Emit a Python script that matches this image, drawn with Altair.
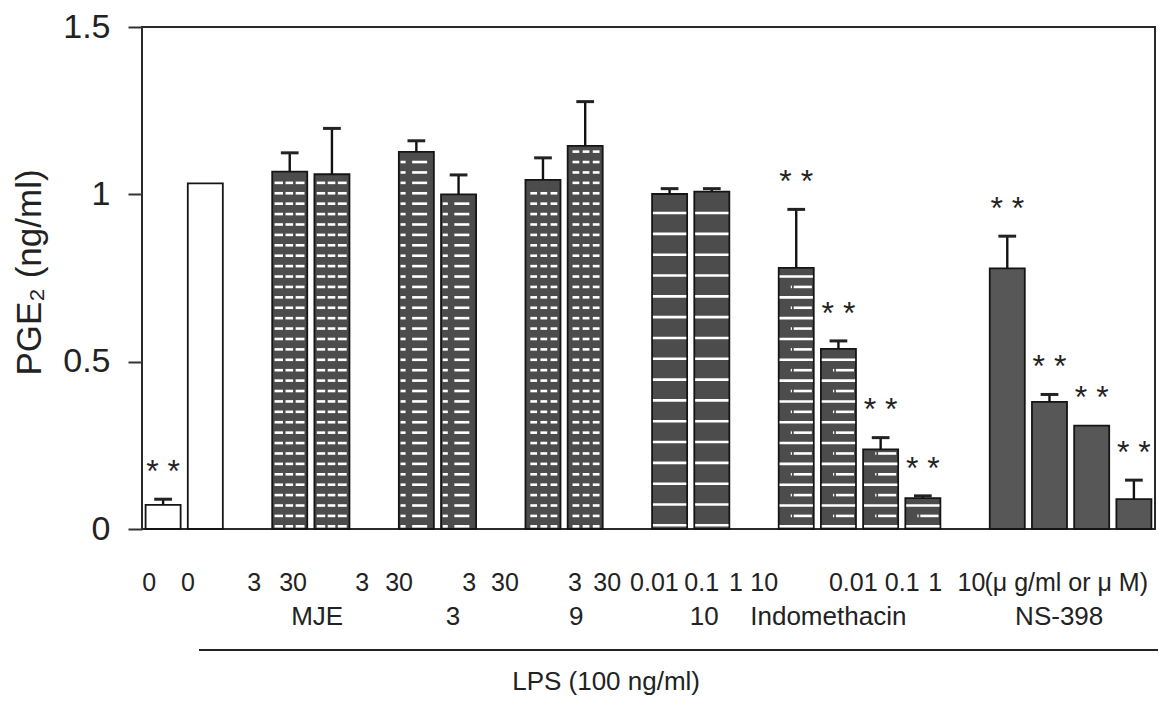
import altair as alt
import pandas as pd

FONT = "Liberation Sans"
INK = "#222222"

# ---- data ----
bar_group = ["Control", "LPS", "MJE", "MJE", "Fr3", "Fr3", "Fr9", "Fr9", "Fr10", "Fr10",
             "Indomethacin", "Indomethacin", "Indomethacin", "Indomethacin",
             "NS-398", "NS-398", "NS-398", "NS-398"]
bar_slot = [0, 1, 3, 4, 6, 7, 9, 10, 12, 13, 15, 16, 17, 18, 20, 21, 22, 23]
bar_style = ["open", "open", "mje", "mje", "frac3", "frac3", "frac9", "frac9", "frac10", "frac10",
             "indo", "indo", "indo", "indo", "ns", "ns", "ns", "ns"]
bar_value = [0.072, 1.033, 1.068, 1.060, 1.127, 1.000, 1.043, 1.145, 1.001, 1.008,
             0.780, 0.538, 0.238, 0.092, 0.779, 0.380, 0.309, 0.089]
bar_upper = [0.089, None, 1.124, 1.197, 1.160, 1.058, 1.109, 1.277, 1.017, 1.017,
             0.955, 0.562, 0.273, 0.099, 0.875, 0.402, None, 0.146]
bar_sig = [True, False, False, False, False, False, False, False, False, False,
           True, True, True, True, True, True, True, True]

dose_labels = ["0", "0", "3", "30", "3", "30", "3", "30", "3", "30",
               "0.01", "0.1", "1", "10", "0.01", "0.1", "1", "10"]
dose_pos = [-0.33, 0.59, 2.16, 3.08, 4.72, 5.59, 7.25, 8.10, 9.76, 10.52,
            11.64, 12.76, 13.57, 14.24, 16.35, 17.51, 18.29, 19.15]
unit_note = "(μ g/ml or μ M)"
unit_pos = [19.46]
group_labels = ["MJE", "3", "9", "10", "Indomethacin", "NS-398"]
group_pos = [3.65, 6.87, 9.79, 12.82, 15.76, 21.23]
lps_label = "LPS (100 ng/ml)"
lps_label_pos = [8.27]
lps_span = [0.85, 23.58]

# ---- tables ----
bars_df = pd.DataFrame({"group": bar_group, "slot": bar_slot, "style": bar_style,
                        "value": bar_value, "upper": bar_upper, "sig": bar_sig})

STEP = 0.0311
row_patterns = {
    "mje": [[(-0.36, -0.16), (-0.10, 0.08), (0.14, 0.35)]],
    "frac3": [[(-0.375, -0.255), (-0.10, 0.255)]],
    "frac9": [[(-0.30, -0.14), (-0.06, 0.10), (0.18, 0.34)]],
    "frac10": [[(-0.395, 0.395)]],
    "indo": [[(-0.395, 0.395)], [(-0.13, -0.10), (-0.06, 0.37)]],
}
rows = []
for s, st, v in zip(bar_slot, bar_style, bar_value):
    if st not in row_patterns:
        continue
    step = STEP * 2 if st == "frac10" else STEP
    start = 0.011 if st == "frac10" else 0.008
    k = 0
    while start + k * step < v - 0.012:
        yy = start + k * step
        pat = row_patterns[st][k % len(row_patterns[st])]
        for a, b in pat:
            rows.append({"slot": s, "a": a, "b": b, "y": yy})
        k += 1
pattern_df = pd.DataFrame(rows)

YT = "PGE\u2082 (ng/ml)"
xscale = alt.Scale(domain=[-0.5, 23.5], nice=False, zero=False)
yscale = alt.Scale(domain=[0, 1.5], nice=False, zero=True)
yaxis = alt.Axis(values=[0, 0.5, 1, 1.5], format="~g", title=YT,
                 titleX=-95, titleY=245, titleAngle=270, titleAlign="center",
                 titleBaseline="bottom")

base = alt.Chart(bars_df)

bars = base.transform_calculate(
    x1="datum.slot - 0.415", x2="datum.slot + 0.415"
).mark_bar(stroke="#151515", strokeWidth=1.8).encode(
    x=alt.X("x1:Q", scale=xscale, axis=None),
    x2="x2:Q",
    y=alt.Y("value:Q", scale=yscale, axis=yaxis),
    y2=alt.datum(0),
    fill=alt.Fill("style:N", legend=None,
                  scale=alt.Scale(domain=["open", "mje", "frac3", "frac9", "frac10", "indo", "ns"],
                                  range=["#ffffff", "#4c4c4c", "#4c4c4c", "#4c4c4c",
                                         "#4c4c4c", "#4c4c4c", "#575757"])),
)

pattern = alt.Chart(pattern_df).transform_calculate(
    xa="datum.slot + datum.a", xb="datum.slot + datum.b"
).mark_rule(color="#ffffff", strokeWidth=2.6, strokeCap="butt").encode(
    x=alt.X("xa:Q", scale=xscale, axis=None),
    x2="xb:Q",
    y=alt.Y("y:Q", scale=yscale, axis=yaxis),
)

stems = base.transform_filter("isValid(datum.upper)").mark_rule(
    color="#111111", strokeWidth=2.4
).encode(
    x=alt.X("slot:Q", scale=xscale, axis=None),
    y=alt.Y("value:Q", scale=yscale, axis=yaxis),
    y2="upper:Q",
)

caps = base.transform_filter("isValid(datum.upper)").transform_calculate(
    c1="datum.slot - 0.21", c2="datum.slot + 0.21"
).mark_rule(color="#222222", strokeWidth=3).encode(
    x=alt.X("c1:Q", scale=xscale, axis=None),
    x2="c2:Q",
    y=alt.Y("upper:Q", scale=yscale, axis=yaxis),
)

stars = base.transform_filter("datum.sig").transform_calculate(
    sy="(isValid(datum.upper) ? datum.upper : datum.value) + 0.105"
).mark_text(text="* *", font=FONT, fontSize=32, color=INK,
            baseline="alphabetic", align="center", dy=18).encode(
    x=alt.X("slot:Q", scale=xscale, axis=None),
    y=alt.Y("sy:Q", scale=yscale, axis=yaxis),
)

dose_df = pd.DataFrame({"label": dose_labels, "pos": dose_pos})
dose_text = alt.Chart(dose_df).mark_text(
    font=FONT, fontSize=25, color=INK, baseline="middle", align="center"
).encode(x=alt.X("pos:Q", scale=xscale, axis=None), y=alt.value(556), text="label:N")

unit_df = pd.DataFrame({"label": [unit_note], "pos": unit_pos})
unit_text = alt.Chart(unit_df).mark_text(
    font=FONT, fontSize=25, color=INK, baseline="middle", align="left"
).encode(x=alt.X("pos:Q", scale=xscale, axis=None), y=alt.value(556), text="label:N")

group_df = pd.DataFrame({"label": group_labels, "pos": group_pos})
group_text = alt.Chart(group_df).mark_text(
    font=FONT, fontSize=26, color=INK, baseline="middle", align="center"
).encode(x=alt.X("pos:Q", scale=xscale, axis=None), y=alt.value(590), text="label:N")

lps_df = pd.DataFrame({"label": [lps_label], "pos": lps_label_pos})
lps_text = alt.Chart(lps_df).mark_text(
    font=FONT, fontSize=26, color=INK, baseline="middle", align="left"
).encode(x=alt.X("pos:Q", scale=xscale, axis=None), y=alt.value(655), text="label:N")

span_df = pd.DataFrame({"start": [lps_span[0]], "end": [lps_span[1]]})
lps_line = alt.Chart(span_df).mark_rule(color="#222222", strokeWidth=2).encode(
    x=alt.X("start:Q", scale=xscale, axis=None), x2="end:Q", y=alt.value(623)
)

chart = alt.layer(
    bars, pattern, stems, caps, stars,
    dose_text, unit_text, group_text, lps_text, lps_line
).properties(
    width=1013, height=502,
    padding={"left": 134, "top": 19, "right": 3, "bottom": 179},
    autosize=alt.AutoSizeParams(type="none"),
    background="white",
).configure_view(
    stroke="#2a2a2a", strokeWidth=2
).configure_axisY(
    labelFont=FONT, labelFontSize=34, labelColor=INK, labelPadding=18,
    tickSize=14, tickWidth=2, tickColor="#333333", domain=False, grid=False,
    titleFont=FONT, titleFontSize=35, titleColor=INK, titleFontWeight="normal",
)

chart.save("out.html", embed_options={"renderer": "svg", "actions": False})
